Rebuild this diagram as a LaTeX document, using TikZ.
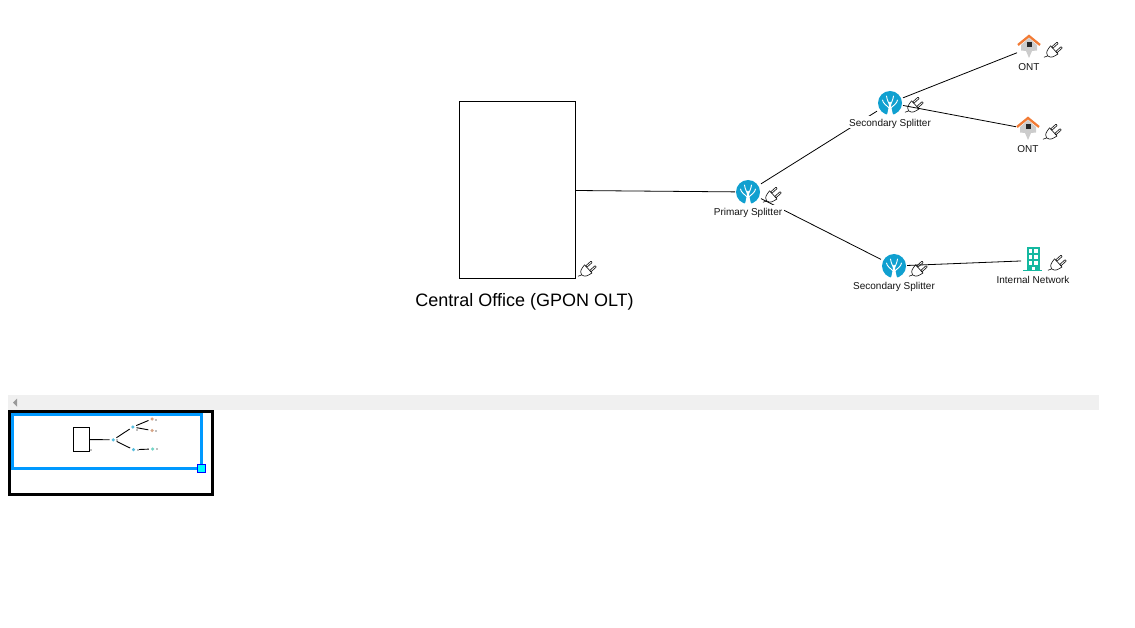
\documentclass[tikz,border=0pt]{standalone}
\usepackage{fontspec}
\setmainfont{Liberation Sans}
\definecolor{splitblue}{HTML}{10A0D0}
\definecolor{roof}{HTML}{F27B35}
\definecolor{bldg}{HTML}{14B8A0}
\definecolor{bluebox}{HTML}{0099FF}
\definecolor{handlefill}{HTML}{00FFFF}
\definecolor{handleedge}{HTML}{0000FF}
\tikzset{
  x=1pt,y=-1pt,
  iconspot/.style={rectangle,minimum size=24pt,inner sep=0pt,outer sep=0pt},
  splitnode/.style={rectangle,minimum size=26pt,inner sep=0pt,outer sep=0pt},
  lab/.style={fill=white,inner xsep=2pt,inner ysep=0pt,minimum height=12pt,text height=9.5pt,text depth=2pt,font=\fontsize{10}{12}\selectfont,text=black!92},
  conn/.style={draw=black,line width=0.8pt},
  mconn/.style={draw=black,line width=0.9pt},
  mdot/.style={circle,minimum size=3.5pt,inner sep=0pt,outer sep=2pt},
  plug/.pic={
    \begin{scope}[shift={(-0.5,0.5)},rotate=42,scale=1.2,line width=0.65pt,draw=black!90,line join=round]
      \draw[rounded corners=0.4pt] (2,-3.3) rectangle (8,-1.8);
      \draw[rounded corners=0.4pt] (2,1.8) rectangle (8,3.3);
      \draw (-1,-4) -- (2,-4.6) -- (2,4.6) -- (-1,4) .. controls (-4,3.5) and (-5.5,1.5) .. (-5.5,0) .. controls (-5.5,-1.5) and (-4,-3.5) .. (-1,-4) -- cycle;
      \draw (-5.5,0) .. controls (-7,0) and (-7,-1.2) .. (-8.5,-1.2);
    \end{scope}
  },
  tree/.pic={
    \fill[splitblue] (0,0) circle[radius=12];
    \fill[white] (-3,11.8) .. controls (-1.5,6) and (-1,3) .. (-0.7,-1) -- (0.7,-1) .. controls (1,3) and (1.5,6) .. (3,11.8) -- cycle;
    \draw[white,line width=0.9pt,line cap=round] (-1,5) .. controls (-3,2) and (-7,1) .. (-7.5,-3);
    \draw[white,line width=0.9pt,line cap=round] (1,5) .. controls (3,2) and (7,1) .. (7.5,-3);
    \draw[white,line width=0.9pt,line cap=round] (-0.5,2) .. controls (-1.5,-1) and (-3,-3) .. (-3.5,-7);
    \draw[white,line width=0.9pt,line cap=round] (0.5,2) .. controls (1.5,-1) and (3,-3) .. (3.5,-7);
  },
  house/.pic={
    \fill[black!20] (-8,-1) -- (0,-8) -- (8,-1) -- (8,4.5) -- (3,5) -- (0,12) -- (-3,5) -- (-8,4.5) -- cycle;
    \draw[roof,line width=2.3pt,line join=miter] (-11,-1) -- (0,-10) -- (11,-1);
    \fill[black!85] (-2.5,-3.5) rectangle (2.5,1.5);
  },
  building/.pic={
    \fill[bldg] (-6.5,-12.5) rectangle (6.5,10.5);
    \fill[bldg] (-10,10) rectangle (9,11.2);
    \foreach \cx in {-4.5,1} \foreach \cy in {-10.5,-4.5,1.5}
      \fill[white] (\cx,\cy) rectangle ++(3.5,4);
    \fill[white] (-1.5,7.5) rectangle (1.5,10.5);
  }
}
\begin{document}
\begin{tikzpicture}
\useasboundingbox (0,0) rectangle (1135,628);
% plugs below the lines
\pic at (587,270) {plug};
\pic at (772,196) {plug};
\pic at (914,106) {plug};
\pic at (918,270) {plug};
\pic at (1053,51) {plug};
\pic at (1052,133) {plug};
\pic at (1057,264) {plug};
% main nodes
\node[draw=black,line width=0.8pt,minimum width=116pt,minimum height=177pt,inner sep=0pt,outer sep=0pt] (olt) at (517.5,190) {};
\node[splitnode] (ps) at (748,192) {};
\node[splitnode] (sa) at (890,103) {};
\node[splitnode] (sb) at (894,266) {};
\node[iconspot] (ontA) at (1029,48) {};
\node[iconspot] (ontB) at (1028,129) {};
\node[iconspot] (net) at (1033,260.5) {};
% connectors
\draw[conn] (olt) -- (ps);
\draw[conn] (ps) -- (sa);
\draw[conn] (ps) -- (sb);
\draw[conn] (sa) -- (ontA);
\draw[conn] (sa) -- (ontB);
\draw[conn] (sb) -- (net);
% icons
\pic at (748,192) {tree};
\pic at (890,103) {tree};
\pic at (894,266) {tree};
\pic at (1029,46) {house};
\pic at (1028,128) {house};
\pic at (1033,260) {building};
% labels
\node[lab] (lps) at (748,211.5) {Primary Splitter};
\node[lab] (lsa) at (890,122.5) {Secondary Splitter};
\node[lab] (lsb) at (894,285.5) {Secondary Splitter};
\node[lab] (lona) at (1029,66.5) {ONT};
\node[lab] (lonb) at (1028,148.5) {ONT};
\node[lab] (lnet) at (1033,279.5) {Internal Network};
\node[font=\fontsize{18}{22}\selectfont,inner sep=0pt,text=black] (lolt) at (524.5,302) {Central Office (GPON OLT)};
% scrollbar
\fill[black!6] (8,395) rectangle (1099,410);
\fill[black!40] (13,402.5) -- (17,398.5) -- (17,406.5) -- cycle;
% outline
\draw[black,line width=3pt] (9.5,411.5) rectangle (212.5,494.5);
\node[draw=black,line width=0.9pt,minimum width=16pt,minimum height=24pt,inner sep=0pt,outer sep=0pt] (molt) at (81.5,439.5) {};
\node[mdot,fill=splitblue!70] (mps) at (113.3,439.8) {};
\node[mdot,fill=splitblue!70] (msa) at (132.8,427) {};
\node[mdot,fill=splitblue!70] (msb) at (133.5,449.7) {};
\node[mdot,fill=roof!60!gray!70] (mona) at (152,419) {};
\node[mdot,fill=roof!60!gray!70] (monb) at (152,430.5) {};
\node[mdot,fill=bldg!60] (mnet) at (152.6,449) {};
\draw[mconn] (molt) -- (mps);
\draw[mconn] (mps) -- (msa);
\draw[mconn] (mps) -- (msb);
\draw[mconn] (msa) -- (mona);
\draw[mconn] (msa) -- (monb);
\draw[mconn] (msb) -- (mnet);
\foreach \px/\py in {90.5/450,117/440,137/430,138/450,155.5/420,155.5/431,156.5/449}
  \fill[black!25] (\px-1,\py-1) rectangle (\px+1,\py+1);
\draw[bluebox,line width=3pt] (12.5,414.5) rectangle (201.5,468.5);
\node[draw=handleedge,fill=handlefill,line width=1pt,minimum size=8pt,inner sep=0pt] (mhandle) at (201.5,468.5) {};
\end{tikzpicture}
\end{document}
